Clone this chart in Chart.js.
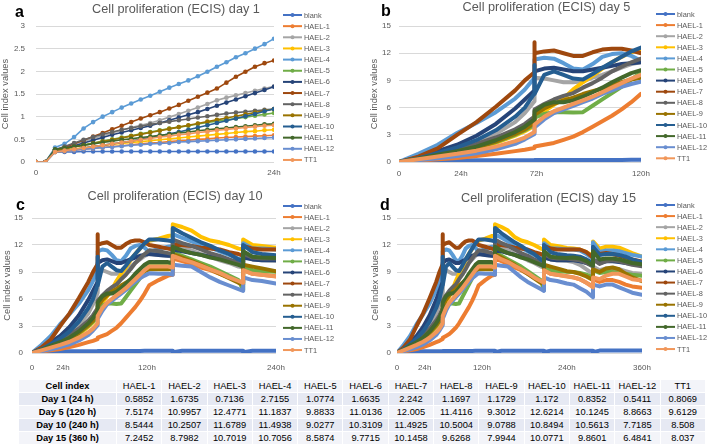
<!DOCTYPE html>
<html lang="en">
<head>
  <meta charset="UTF-8">
  <title>Cell proliferation (ECIS)</title>
  <script src="https://cdn.jsdelivr.net/npm/chart.js"></script>
  <style>
    body { margin: 0; background: #fff; }
    #wrap { position: relative; width: 708px; height: 444px; overflow: hidden; }
    #wrap canvas { position: absolute; }
    #ciTable {
      position: absolute; left: 18px; top: 379px; width: 688px;
      border-collapse: collapse; table-layout: fixed;
      font-family: "Liberation Sans", Arial, sans-serif; font-size: 9.3px; color: #000;
    }
    #ciTable td { height: 12px; line-height: 12px; padding: 0; text-align: center; border: 1px solid #fff; white-space: nowrap; overflow: hidden; }
    #ciTable tr:nth-child(odd) td { background: #e6e9f3; }
    #ciTable tr:nth-child(even) td { background: #f3f4f9; }
    #ciTable tr:first-child td, #ciTable td:first-child { font-weight: bold; }
  </style>
</head>
<body>
  <div id="wrap">
    <canvas id="chartA" width="354" height="185" style="left:0;top:0"></canvas>
    <canvas id="chartB" width="354" height="185" style="left:354px;top:0"></canvas>
    <canvas id="chartC" width="354" height="190" style="left:0;top:185px"></canvas>
    <canvas id="chartD" width="354" height="190" style="left:354px;top:185px"></canvas>
    <table id="ciTable"></table>
  </div>

  <script>
    // series names and Excel colours
    const seriesNames = ['blank', 'HAEL-1', 'HAEL-2', 'HAEL-3', 'HAEL-4', 'HAEL-5', 'HAEL-6',
      'HAEL-7', 'HAEL-8', 'HAEL-9', 'HAEL-10', 'HAEL-11', 'HAEL-12', 'TT1'];
    const seriesColors = ['#4472C4', '#ED7D31', '#A5A5A5', '#FFC000', '#5B9BD5', '#70AD47', '#264478',
      '#9E480E', '#636363', '#997300', '#255E91', '#43682B', '#698ED0', '#F1975A'];

    // ---------------- day 1: 26 readings ----------------
    const dayOnePos = [0, 1, 2, 3, 4, 5, 6, 7, 8, 9, 10, 11, 12, 13, 14, 15, 16, 17, 18, 19, 20, 21, 22, 23, 24, 25];
    const dayOneTicks = [[0, '0'], [25, '24h']];

    const d1Blank  = [0, 0, 0.22, 0.22, 0.22, 0.23, 0.23, 0.23, 0.23, 0.23, 0.23, 0.23, 0.23, 0.23, 0.23, 0.23, 0.23, 0.23, 0.23, 0.23, 0.23, 0.23, 0.23, 0.23, 0.23, 0.23];
    const d1Hael1  = [0, 0, 0.22, 0.24, 0.26, 0.28, 0.3, 0.32, 0.34, 0.36, 0.38, 0.4, 0.42, 0.43, 0.45, 0.47, 0.48, 0.5, 0.51, 0.53, 0.54, 0.55, 0.56, 0.57, 0.58, 0.59];
    const d1Hael2  = [0, 0, 0.28, 0.33, 0.4, 0.46, 0.52, 0.58, 0.64, 0.7, 0.76, 0.81, 0.86, 0.92, 0.99, 1.06, 1.13, 1.2, 1.28, 1.36, 1.42, 1.47, 1.52, 1.57, 1.62, 1.67];
    const d1Hael3  = [0, 0, 0.24, 0.26, 0.29, 0.31, 0.34, 0.36, 0.39, 0.41, 0.43, 0.45, 0.47, 0.49, 0.51, 0.53, 0.55, 0.57, 0.59, 0.61, 0.63, 0.65, 0.67, 0.68, 0.7, 0.71];
    const d1Hael4  = [0, 0, 0.32, 0.4, 0.55, 0.74, 0.88, 1.0, 1.1, 1.2, 1.29, 1.38, 1.46, 1.55, 1.64, 1.72, 1.8, 1.89, 1.99, 2.1, 2.2, 2.31, 2.4, 2.5, 2.6, 2.72];
    const d1Hael5  = [0, 0, 0.26, 0.3, 0.34, 0.38, 0.42, 0.46, 0.5, 0.54, 0.58, 0.62, 0.66, 0.7, 0.74, 0.77, 0.8, 0.84, 0.87, 0.9, 0.93, 0.96, 0.99, 1.02, 1.05, 1.08];
    const d1Hael6  = [0, 0, 0.25, 0.3, 0.36, 0.42, 0.48, 0.54, 0.6, 0.65, 0.7, 0.75, 0.8, 0.86, 0.92, 0.98, 1.04, 1.1, 1.17, 1.24, 1.31, 1.38, 1.45, 1.52, 1.59, 1.66];
    const d1Hael7  = [0, 0, 0.27, 0.32, 0.4, 0.48, 0.56, 0.64, 0.72, 0.8, 0.88, 0.96, 1.03, 1.1, 1.18, 1.26, 1.35, 1.44, 1.53, 1.62, 1.75, 1.88, 1.99, 2.1, 2.18, 2.24];
    const d1Hael8  = [0, 0, 0.27, 0.34, 0.42, 0.49, 0.55, 0.61, 0.66, 0.71, 0.75, 0.79, 0.83, 0.86, 0.89, 0.92, 0.95, 0.98, 1.01, 1.04, 1.07, 1.09, 1.11, 1.13, 1.15, 1.17];
    const d1Hael9  = [0, 0, 0.25, 0.29, 0.33, 0.37, 0.41, 0.45, 0.49, 0.53, 0.57, 0.61, 0.65, 0.69, 0.73, 0.77, 0.81, 0.85, 0.89, 0.93, 0.97, 1.01, 1.05, 1.09, 1.13, 1.17];
    const d1Hael10 = [0, 0, 0.22, 0.25, 0.28, 0.31, 0.34, 0.37, 0.4, 0.43, 0.46, 0.5, 0.54, 0.58, 0.62, 0.66, 0.71, 0.76, 0.81, 0.86, 0.91, 0.96, 1.01, 1.06, 1.12, 1.17];
    const d1Hael11 = [0, 0, 0.28, 0.31, 0.34, 0.37, 0.4, 0.43, 0.46, 0.49, 0.51, 0.54, 0.56, 0.59, 0.61, 0.64, 0.66, 0.69, 0.71, 0.73, 0.75, 0.77, 0.79, 0.81, 0.83, 0.84];
    const d1Hael12 = [0, 0, 0.22, 0.24, 0.26, 0.28, 0.3, 0.32, 0.33, 0.35, 0.37, 0.38, 0.4, 0.41, 0.42, 0.44, 0.45, 0.46, 0.47, 0.48, 0.49, 0.5, 0.51, 0.52, 0.53, 0.54];
    const d1Tt1    = [0, 0, 0.22, 0.25, 0.28, 0.31, 0.34, 0.37, 0.4, 0.43, 0.46, 0.49, 0.52, 0.55, 0.57, 0.6, 0.62, 0.65, 0.67, 0.7, 0.72, 0.74, 0.76, 0.78, 0.8, 0.81];

    // ---------------- 15 day run (day 5 / 10 / 15 panels show a part of it) ----------------
    // reading position on the plotted axis; repeated positions are medium changes
    const runPos = [0, 2, 4, 6, 8, 10, 12, 13,  14, 14, 14,
      15, 16, 17, 18, 19, 20, 21, 22, 23, 24, 25,  27, 29, 30, 30,
      32, 34, 36, 38, 40, 42, 44,  45, 45,  47, 49, 52,  54, 56, 58,  60, 60,
      62, 64, 66, 68, 70, 72, 75];
    const day5Ticks  = [[0, '0'], [6.4, '24h'], [14.2, '72h'], [25, '120h']];
    const day10Ticks = [[0, '0'], [6.6, '24h'], [24.5, '120h'], [52, '240h']];
    const day15Ticks = [[0, '0'], [8.5, '24h'], [26, '120h'], [52, '240h'], [75, '360h']];

    const runBlank = [0, 0.15, 0.2, 0.2, 0.2, 0.2, 0.2, 0.2,  0.2, 0.05, 0.22,
      0.22, 0.22, 0.22, 0.22, 0.23, 0.23, 0.23, 0.23, 0.23, 0.24, 0.24,  0.24, 0.24, 0.24, 0.08,
      0.25, 0.25, 0.25, 0.25, 0.25, 0.25, 0.25,  0.25, 0.08,  0.26, 0.26, 0.26,  0.26, 0.26, 0.26,  0.26, 0.08,
      0.27, 0.27, 0.27, 0.27, 0.27, 0.27, 0.27];
    const runHael1 = [0, 0.15, 0.3, 0.45, 0.65, 0.9, 1.2, 1.35,  1.55, 1.7, 1.7,
      1.9, 2.1, 2.45, 2.8, 3.3, 3.9, 4.5, 5.1, 5.8, 6.6, 7.52,  8.1, 8.6, 8.7, 10.5,
      10.2, 9.9, 9.5, 9.2, 8.8, 8.4, 8.0,  7.8, 9.2,  8.8, 8.7, 8.54,  8.4, 8.2, 7.8,  7.4, 8.2,
      7.9, 8.1, 8.1, 7.9, 7.6, 7.4, 7.25];
    const runHael2 = [0, 0.4, 0.9, 1.5, 2.2, 3.1, 4.4, 5.4,  6.7, 9.3, 9.3,
      9.2, 9.0, 8.8, 8.8, 8.9, 9.3, 9.6, 10.0, 10.4, 10.8, 11.0,  10.9, 10.8, 10.7, 12.2,
      11.8, 11.4, 11.0, 10.7, 10.3, 10.0, 9.6,  9.5, 10.7,  10.4, 10.3, 10.25,  10.1, 9.8, 9.3,  8.8, 9.6,
      9.2, 9.4, 9.4, 9.3, 9.1, 8.9, 8.8];
    const runHael3 = [0, 0.3, 0.6, 1.0, 1.45, 2.1, 2.9, 3.4,  4.0, 4.9, 4.9,
      5.6, 6.3, 7.0, 8.0, 8.8, 9.5, 10.3, 11.0, 11.6, 12.1, 12.48,  12.7, 13.0, 13.1, 14.3,
      14.0, 13.6, 12.9, 12.5, 12.3, 12.0, 11.6,  11.5, 12.6,  12.0, 11.9, 11.68,  11.6, 11.5, 11.2,  10.8, 12.4,
      11.6, 11.8, 11.8, 11.7, 11.4, 11.1, 10.7];
    const runHael4 = [0, 0.9, 1.9, 3.2, 4.3, 5.5, 7.0, 8.0,  9.3, 11.3, 11.3,
      11.5, 11.4, 10.9, 10.3, 10.2, 10.8, 11.6, 11.9, 12.0, 11.7, 11.18,  11.6, 11.8, 11.9, 13.2,
      12.8, 12.4, 12.0, 11.7, 11.3, 10.9, 10.5,  10.4, 12.2,  11.6, 11.6, 11.49,  11.5, 11.4, 11.0,  10.5, 12.3,
      11.2, 11.4, 11.4, 11.3, 11.1, 10.9, 10.71];
    const runHael5 = [0, 0.35, 0.75, 1.15, 1.6, 2.2, 3.0, 3.5,  4.1, 4.9, 4.9,
      5.3, 5.5, 5.5, 5.45, 5.5, 6.2, 6.9, 7.6, 8.3, 9.1, 9.88,  9.9, 9.9, 9.8, 11.2,
      10.8, 10.4, 10.0, 9.6, 9.1, 8.6, 8.1,  7.0, 9.6,  9.2, 9.1, 9.03,  9.0, 8.9, 8.7,  8.4, 9.2,
      8.9, 9.0, 9.0, 8.9, 8.8, 8.7, 8.59];
    const runHael6 = [0, 0.5, 1.2, 1.9, 2.9, 4.2, 5.9, 6.9,  7.9, 10.0, 10.0,
      10.3, 10.4, 10.2, 10.0, 10.0, 10.2, 10.4, 10.6, 10.8, 10.9, 11.01,  10.9, 10.8, 10.8, 11.5,
      11.3, 11.1, 10.9, 10.7, 10.5, 10.3, 10.1,  10.0, 10.6,  10.4, 10.3, 10.31,  10.3, 10.2, 10.0,  9.7, 10.4,
      10.0, 10.2, 10.2, 10.1, 10.0, 9.9, 9.77];
    const runHael7 = [0, 0.6, 1.5, 3.0, 4.4, 6.1, 7.9, 9.0,  9.9, 13.2, 12.0,
      12.2, 12.3, 12.0, 11.7, 11.7, 12.1, 12.4, 12.5, 12.5, 12.3, 12.0,  11.8, 11.6, 11.5, 12.0,
      12.0, 11.9, 11.7, 11.6, 11.5, 11.2, 11.0,  10.8, 11.9,  11.6, 11.5, 11.49,  11.5, 11.5, 11.2,  10.6, 11.6,
      11.0, 11.1, 11.0, 10.8, 10.6, 10.4, 10.15];
    const runHael8 = [0, 0.4, 0.9, 1.4, 2.0, 2.7, 3.6, 4.2,  5.0, 5.8, 5.8,
      6.4, 6.9, 7.3, 7.6, 8.2, 8.7, 9.3, 10.0, 10.5, 11.0, 11.41,  11.3, 11.1, 11.0, 12.6,
      12.2, 11.9, 11.5, 11.1, 10.8, 10.4, 10.0,  9.9, 11.0,  10.6, 10.5, 10.5,  10.4, 10.3, 10.0,  9.6, 10.4,
      9.9, 10.2, 10.3, 10.2, 10.0, 9.8, 9.63];
    const runHael9 = [0, 0.35, 0.75, 1.15, 1.6, 2.25, 3.1, 3.6,  4.3, 5.2, 5.2,
      5.9, 6.4, 6.8, 7.1, 7.5, 7.8, 8.1, 8.5, 8.8, 9.1, 9.3,  9.3, 9.3, 9.3, 11.0,
      10.6, 10.2, 9.8, 9.3, 8.8, 8.3, 7.8,  7.6, 9.8,  9.6, 9.4, 9.08,  9.0, 8.8, 8.5,  8.1, 9.3,
      9.0, 9.4, 9.5, 9.3, 8.8, 8.4, 7.99];
    const runHael10 = [0, 0.4, 1.0, 1.6, 2.4, 3.5, 5.0, 6.0,  7.6, 10.7, 7.5,
      9.6, 10.0, 9.6, 9.2, 9.1, 9.7, 10.4, 11.0, 11.6, 12.2, 12.62,  12.6, 12.5, 12.4, 13.9,
      13.3, 12.8, 12.3, 11.9, 11.4, 11.0, 10.4,  10.2, 12.0,  11.2, 11.0, 10.85,  10.8, 10.7, 10.4,  10.0, 11.8,
      10.9, 11.0, 11.0, 10.9, 10.7, 10.4, 10.08];
    const runHael11 = [0, 0.35, 0.8, 1.2, 1.7, 2.4, 3.3, 3.9,  4.7, 5.6, 5.6,
      6.3, 6.6, 6.6, 6.8, 7.2, 7.7, 8.2, 8.8, 9.3, 9.8, 10.12,  10.1, 10.1, 10.0, 11.8,
      11.4, 11.1, 10.9, 10.6, 10.4, 10.1, 9.8,  9.6, 11.3,  10.7, 10.6, 10.56,  10.6, 10.5, 10.2,  9.7, 11.3,
      10.4, 10.5, 10.5, 10.4, 10.2, 10.0, 9.86];
    const runHael12 = [0, 0.2, 0.4, 0.65, 0.95, 1.4, 2.0, 2.5,  3.1, 3.8, 3.8,
      4.7, 5.4, 5.8, 6.2, 6.6, 7.0, 7.5, 7.9, 8.3, 8.6, 8.87,  8.8, 8.8, 8.7, 9.8,
      9.7, 9.6, 9.0, 8.4, 7.9, 7.5, 7.1,  6.9, 8.4,  8.1, 8.0, 7.72,  7.6, 7.2, 6.8,  6.2, 7.6,
      7.4, 7.6, 7.6, 7.3, 7.0, 6.7, 6.48];
    const runTt1 = [0, 0.3, 0.6, 0.9, 1.25, 1.7, 2.3, 2.7,  3.3, 4.1, 4.1,
      5.0, 5.6, 6.0, 6.4, 6.8, 7.2, 7.7, 8.2, 8.7, 9.2, 9.61,  9.6, 9.6, 9.5, 10.8,
      10.4, 10.1, 9.7, 9.3, 8.9, 8.4, 8.0,  7.8, 9.2,  8.8, 8.7, 8.51,  8.4, 8.2, 7.8,  7.3, 8.4,
      8.2, 8.6, 8.8, 8.8, 8.5, 8.2, 8.04];

    // ---------------- table ----------------
    const tableHead = 'Cell index';
    const tableRowLabels = ['Day 1 (24 h)', 'Day 5 (120 h)', 'Day 10 (240 h)', 'Day 15 (360 h)'];
    const day1Index  = [0.5852, 1.6735, 0.7136, 2.7155, 1.0774, 1.6635, 2.242, 1.1697, 1.1729, 1.172, 0.8352, 0.5411, 0.8069];
    const day5Index  = [7.5174, 10.9957, 12.4771, 11.1837, 9.8833, 11.0136, 12.005, 11.4116, 9.3012, 12.6214, 10.1245, 8.8663, 9.6129];
    const day10Index = [8.5444, 10.2507, 11.6789, 11.4938, 9.0277, 10.3109, 11.4925, 10.5004, 9.0788, 10.8494, 10.5613, 7.7185, 8.508];
    const day15Index = [7.2452, 8.7982, 10.7019, 10.7056, 8.5874, 9.7715, 10.1458, 9.6268, 7.9944, 10.0771, 9.8601, 6.4841, 8.037];

    const dayOneRows = [d1Blank, d1Hael1, d1Hael2, d1Hael3, d1Hael4, d1Hael5, d1Hael6,
      d1Hael7, d1Hael8, d1Hael9, d1Hael10, d1Hael11, d1Hael12, d1Tt1];
    const runRows = [runBlank, runHael1, runHael2, runHael3, runHael4, runHael5, runHael6,
      runHael7, runHael8, runHael9, runHael10, runHael11, runHael12, runTt1];

    Chart.defaults.font.family = '"Liberation Sans", Arial, sans-serif';
    const FONT = '"Liberation Sans", Arial, sans-serif';

    // panel letter, title and legend (legend as line + marker like Excel)
    const panelDecor = {
      id: 'panelDecor',
      afterDraw(chart, args, o) {
        const ctx = chart.ctx;
        ctx.save();
        ctx.font = 'bold 16px ' + FONT;
        ctx.fillStyle = '#000';
        ctx.textAlign = 'left';
        ctx.textBaseline = 'alphabetic';
        ctx.fillText(o.letter, o.letterX, o.letterY);

        ctx.font = '12.7px ' + FONT;
        ctx.fillStyle = '#595959';
        ctx.textAlign = 'center';
        ctx.textBaseline = 'middle';
        ctx.fillText(o.title, o.titleX, o.titleY);

        ctx.font = '7.4px ' + FONT;
        ctx.textAlign = 'left';
        chart.data.datasets.forEach((ds, i) => {
          const y = o.legendY + i * o.legendStep;
          ctx.strokeStyle = ds.borderColor;
          ctx.lineWidth = 2;
          ctx.beginPath();
          ctx.moveTo(o.legendX, y);
          ctx.lineTo(o.legendX + 19, y);
          ctx.stroke();
          ctx.fillStyle = ds.borderColor;
          ctx.beginPath();
          ctx.arc(o.legendX + 9.5, y, 2, 0, Math.PI * 2);
          ctx.fill();
          ctx.fillStyle = '#595959';
          ctx.fillText(ds.label, o.legendX + 21, y + 0.5);
        });
        ctx.restore();
      }
    };

    function makeChart(id, cfg) {
      const datasets = seriesNames.map((name, i) => ({
        label: name,
        data: cfg.pos.map((p, k) => ({ x: p, y: cfg.rows[i][k] })).filter(pt => pt.x <= cfg.xMax),
        borderColor: seriesColors[i],
        backgroundColor: seriesColors[i],
        borderWidth: cfg.lineWidth,
        pointRadius: cfg.pointRadius,
        pointBorderWidth: 0,
        pointHoverRadius: 0,
        borderJoinStyle: 'round',
        borderCapStyle: 'round',
        tension: 0,
        order: -i   // later series drawn on top, like Excel
      }));

      return new Chart(document.getElementById(id), {
        type: 'line',
        data: { datasets },
        options: {
          responsive: false,
          animation: false,
          events: [],
          layout: { padding: { left: 0, right: cfg.padRight, top: cfg.padTop, bottom: 0 } },
          plugins: {
            legend: { display: false },
            tooltip: { enabled: false },
            panelDecor: cfg.decor
          },
          scales: {
            x: {
              type: 'linear',
              min: 0,
              max: cfg.xMax,
              grid: { display: false, drawTicks: false },
              border: { display: false },
              afterBuildTicks: s => { s.ticks = cfg.ticks.map(t => ({ value: t[0] })); },
              afterFit: s => { s.height = cfg.xHeight; },
              ticks: {
                autoSkip: false,
                maxRotation: 0,
                padding: cfg.xPad,
                color: '#595959',
                font: { size: 8 },
                callback: (v, i) => (cfg.ticks[i] ? cfg.ticks[i][1] : '')
              }
            },
            y: {
              min: 0,
              max: cfg.yMax,
              afterFit: s => { s.width = cfg.yWidth; },
              grid: { color: '#d9d9d9', drawTicks: false },
              border: { display: false },
              ticks: {
                stepSize: cfg.yStep,
                padding: cfg.yPad,
                color: '#595959',
                font: { size: 8 },
                callback: v => String(v)
              },
              title: {
                display: true,
                text: 'Cell index values',
                color: '#595959',
                font: { size: 9.3 },
                padding: { top: cfg.yTitlePad, bottom: 0 }
              }
            }
          }
        },
        plugins: [panelDecor]
      });
    }

    // a: day 1
    makeChart('chartA', {
      pos: dayOnePos, rows: dayOneRows, ticks: dayOneTicks, xMax: 25,
      yMax: 3, yStep: 0.5, lineWidth: 1.6, pointRadius: 2.3,
      padRight: 80, padTop: 26, xHeight: 23, yWidth: 36, xPad: 6, yPad: 11, yTitlePad: 0,
      decor: { letter: 'a', letterX: 15, letterY: 16.5, title: 'Cell proliferation (ECIS) day 1',
        titleX: 176, titleY: 9, legendX: 283, legendY: 15, legendStep: 11.15 }
    });

    // b: day 5
    makeChart('chartB', {
      pos: runPos, rows: runRows, ticks: day5Ticks, xMax: 25,
      yMax: 15, yStep: 3, lineWidth: 4, pointRadius: 0,
      padRight: 67, padTop: 26, xHeight: 23, yWidth: 45, xPad: 7, yPad: 8, yTitlePad: 14.4,
      decor: { letter: 'b', letterX: 27, letterY: 16, title: 'Cell proliferation (ECIS) day 5',
        titleX: 192.5, titleY: 7, legendX: 302, legendY: 14, legendStep: 11.1 }
    });

    // c: day 10
    makeChart('chartC', {
      pos: runPos, rows: runRows, ticks: day10Ticks, xMax: 52,
      yMax: 15, yStep: 3, lineWidth: 4, pointRadius: 0,
      padRight: 78, padTop: 33, xHeight: 22, yWidth: 32, xPad: 9.9, yPad: 9, yTitlePad: 1.4,
      decor: { letter: 'c', letterX: 16, letterY: 24.5, title: 'Cell proliferation (ECIS) day 10',
        titleX: 175, titleY: 11, legendX: 283, legendY: 21, legendStep: 11.08 }
    });

    // d: day 15
    makeChart('chartD', {
      pos: runPos, rows: runRows, ticks: day15Ticks, xMax: 75,
      yMax: 15, yStep: 3, lineWidth: 4, pointRadius: 0,
      padRight: 66, padTop: 33, xHeight: 22, yWidth: 43, xPad: 9.9, yPad: 6, yTitlePad: 15.4,
      decor: { letter: 'd', letterX: 26, letterY: 25, title: 'Cell proliferation (ECIS) day 15',
        titleX: 194.5, titleY: 13, legendX: 302, legendY: 20, legendStep: 11.08 }
    });

    // table under the charts
    const table = document.getElementById('ciTable');
    const colGroup = document.createElement('colgroup');
    colGroup.innerHTML = '<col style="width:98px">' + seriesNames.slice(1).map(() => '<col>').join('');
    table.appendChild(colGroup);
    const bodyRows = [[tableHead].concat(seriesNames.slice(1))];
    [day1Index, day5Index, day10Index, day15Index].forEach((vals, r) => {
      bodyRows.push([tableRowLabels[r]].concat(vals.map(String)));
    });
    bodyRows.forEach(cells => {
      const tr = document.createElement('tr');
      cells.forEach(c => {
        const td = document.createElement('td');
        td.textContent = c;
        tr.appendChild(td);
      });
      table.appendChild(tr);
    });
  </script>
</body>
</html>
